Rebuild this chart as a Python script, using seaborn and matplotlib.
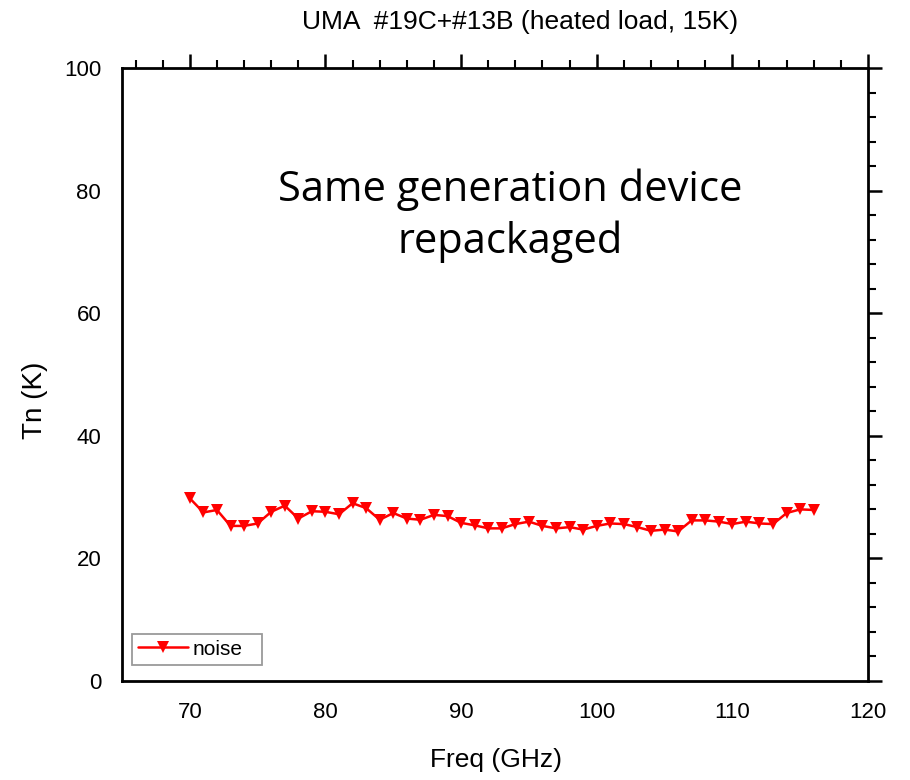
import numpy as np
import pandas as pd
import matplotlib
matplotlib.use("Agg")
import matplotlib.pyplot as plt
import seaborn as sns
from matplotlib.ticker import MultipleLocator

freq = list(range(70, 117))
noise = [29.8, 27.5, 27.9, 25.3, 25.3, 25.7, 27.6, 28.6, 26.5, 27.7,
         27.6, 27.2, 29.0, 28.2, 26.3, 27.4, 26.5, 26.3, 27.1, 26.9,
         25.8, 25.4, 24.9, 24.9, 25.6, 26.0, 25.3, 24.9, 25.1, 24.7,
         25.3, 25.7, 25.6, 25.1, 24.5, 24.7, 24.4, 26.2, 26.2, 26.0,
         25.6, 26.0, 25.7, 25.6, 27.4, 28.0, 27.9]
series_name = "noise"
title = "UMA  #19C+#13B (heated load, 15K)"
annotation = "Same generation device\nrepackaged"

df = pd.DataFrame({"Freq": freq, "Tn": noise, "series": series_name})

sns.set_theme(style="white")
plt.rcParams['font.family'] = ['Liberation Sans', 'DejaVu Sans']
plt.rcParams['text.color'] = 'black'
plt.rcParams['axes.labelcolor'] = 'black'

fig = plt.figure(figsize=(9.1, 7.8), dpi=100)
ax = fig.add_axes([122/910, 1-681/780, (868-122)/910, (681-68)/780])

sns.lineplot(data=df, x="Freq", y="Tn", hue="series", palette=["#ff0000"],
             marker="v", markersize=8, markeredgewidth=0, linewidth=1.8, ax=ax)

ax.set_xlim(65, 120)
ax.set_ylim(0, 100)
ax.xaxis.set_major_locator(MultipleLocator(10))
ax.xaxis.set_minor_locator(MultipleLocator(2))
ax.yaxis.set_major_locator(MultipleLocator(20))
ax.yaxis.set_minor_locator(MultipleLocator(4))
ax.tick_params(which="both", direction="out", top=True, right=True,
               labeltop=False, labelright=False, color="black")
ax.tick_params(which="major", length=10, width=1.8, labelsize=16,
               colors="black", pad=5)
ax.tick_params(which="minor", length=5.5, width=1.5)
for s in ax.spines.values():
    s.set_color("black")
    s.set_linewidth(2)

ax.set_xlabel("Freq (GHz)", fontsize=19)
ax.xaxis.set_label_coords((496-122)/746, (681-748)/613)
ax.set_ylabel("Tn (K)", fontsize=20)
ax.yaxis.set_label_coords((48-122)/746, (681-400)/613)

fig.text(520/910, 1-22/780, title, ha="center", va="center", fontsize=19)
fig.text(510/910, 1-216/780, annotation, ha="center", va="center",
         fontsize=30, family=["Open Sans", "DejaVu Sans"], linespacing=1.3)

leg = ax.legend(loc="lower left",
                bbox_to_anchor=((132-122)/746, (681-665)/613, 130/746, 33/613),
                mode="expand", fontsize=15,
                frameon=True, fancybox=False, edgecolor="#808080",
                handlelength=2.4, handletextpad=0.2, borderpad=0.3,
                borderaxespad=0)
leg.get_frame().set_linewidth(1.3)
for t in leg.get_texts():
    t.set_color("black")

fig.savefig("out.png", dpi=100, facecolor="white")
